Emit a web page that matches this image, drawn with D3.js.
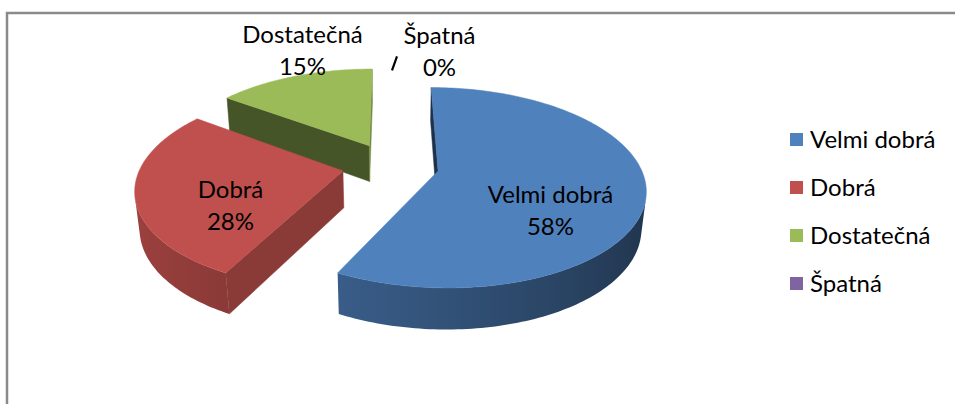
<!DOCTYPE html>
<html>
<head>
<meta charset="utf-8">
<script src="https://cdn.jsdelivr.net/npm/d3@7"></script>
<style>
  body { margin: 0; background: #fff; }
  text { font-family: Lato, 'Open Sans', sans-serif; fill: #000; }
</style>
</head>
<body>
<div id="chart"></div>
<script>
let categories = ['Velmi dobrá', 'Dobrá', 'Dostatečná', 'Špatná']
let counts = [23, 11, 6, 0]
let colors = ['#4f81bd', '#c0504d', '#9bbb59', '#8064a2']

let width = 955
let height = 404

let svg = d3
  .select('#chart')
  .append('svg')
  .attr('width', width)
  .attr('height', height)

let defs = svg.append('defs')

// chart frame (only top and left edges are in view)
svg
  .append('path')
  .attr('d', 'M7,404V13H955')
  .attr('fill', 'none')
  .attr('stroke', '#8a8a8a')
  .attr('stroke-width', 2.5)

let color = d3.scaleOrdinal().domain(categories).range(colors)
let total = d3.sum(counts)

let pie = d3
  .pie()
  .sort(null)
  .value(d => d.count)

let slices = pie(categories.map((c, i) => ({ name: c, count: counts[i] })))

// simple perspective camera looking down on a unit disk
let cam = { cx: 390.5, cy: 165.5, f: 1068, dist: 5.29, tilt: 0.493 }
let sinT = Math.sin(cam.tilt)
let cosT = Math.cos(cam.tilt)
let thick = 0.21
let explode = 0.24

function project(x, z, y) {
  let yc = y * cosT + z * sinT
  let zc = cam.dist + z * cosT - y * sinT
  return [cam.cx + (cam.f * x) / zc, cam.cy - (cam.f * yc) / zc]
}

function shade(base, k) {
  let c = d3.rgb(base)
  return d3.rgb(c.r * k, c.g * k, c.b * k).toString()
}

function area(pts) {
  let s = 0
  for (let i = 0; i < pts.length; i++) {
    let a = pts[i]
    let b = pts[(i + 1) % pts.length]
    s += a[0] * b[1] - b[0] * a[1]
  }
  return s
}

let line = d3.line().curve(d3.curveLinearClosed)

slices.forEach(d => {
  let mid = (d.startAngle + d.endAngle) / 2
  d.ox = explode * Math.sin(mid)
  d.oz = explode * Math.cos(mid)
})

let solids = slices.filter(d => d.value > 0).sort((a, b) => b.oz - a.oz)

solids.forEach((d, si) => {
  let g = svg.append('g').attr('class', 'slice')
  let base = color(d.data.name)
  let edge = (t, y) => project(d.ox + Math.sin(t), d.oz + Math.cos(t), y)
  let centre = y => project(d.ox, d.oz, y)

  // cut faces
  let cuts = [
    { pts: [centre(0), edge(d.startAngle, 0), edge(d.startAngle, -thick), centre(-thick)],
      k: 0.56 + 0.18 * Math.sin(d.startAngle - Math.PI / 2) },
    { pts: [edge(d.endAngle, 0), centre(0), centre(-thick), edge(d.endAngle, -thick)],
      k: 0.56 + 0.18 * Math.sin(d.endAngle + Math.PI / 2) }
  ]
  cuts
    .filter(f => area(f.pts) < 0)
    .forEach(f => {
      let c = shade(base, f.k)
      g.append('path')
        .attr('d', line(f.pts))
        .attr('fill', c)
        .attr('stroke', c)
        .attr('stroke-width', 0.5)
    })

  // outer wall: find the strips facing the camera, join them into runs
  let n = Math.max(2, Math.ceil((d.endAngle - d.startAngle) / 0.02))
  let step = (d.endAngle - d.startAngle) / n
  let runs = []
  let run = null
  for (let i = 0; i < n; i++) {
    let t0 = d.startAngle + i * step
    let t1 = t0 + step
    let quad = [edge(t0, 0), edge(t1, 0), edge(t1, -thick), edge(t0, -thick)]
    if (area(quad) < 0) {
      if (!run) {
        run = [t0]
        runs.push(run)
      }
      run.push(t1)
    } else {
      run = null
    }
  }

  runs.forEach((ts, ri) => {
    let topPts = ts.map(t => edge(t, 0))
    let botPts = ts.map(t => edge(t, -thick)).reverse()
    let xs = topPts.map(p => p[0])
    let x0 = d3.min(xs)
    let x1 = d3.max(xs)
    let id = 'wall-' + si + '-' + ri
    let grad = defs
      .append('linearGradient')
      .attr('id', id)
      .attr('gradientUnits', 'userSpaceOnUse')
      .attr('x1', x0)
      .attr('x2', x1)
      .attr('y1', 0)
      .attr('y2', 0)
    let stops = ts.map((t, i) => ({
      off: (topPts[i][0] - x0) / (x1 - x0 || 1),
      c: shade(base, 0.6 - 0.21 * Math.sin(t) - 0.03 * Math.cos(t))
    }))
    stops.sort((a, b) => a.off - b.off)
    stops.forEach(s => {
      grad.append('stop').attr('offset', s.off).attr('stop-color', s.c)
    })
    g.append('path')
      .attr('d', line(topPts.concat(botPts)))
      .attr('fill', 'url(#' + id + ')')
  })

  // top face
  let top = [centre(0)]
  for (let i = 0; i <= n; i++) top.push(edge(d.startAngle + i * step, 0))
  g.append('path')
    .attr('d', line(top))
    .attr('fill', base)
    .attr('stroke', base)
    .attr('stroke-width', 0.5)
})

// data labels
let fontSize = 24
let lineGap = 32

slices.forEach(d => {
  let mid = (d.startAngle + d.endAngle) / 2
  let pct = Math.round((d.value * 100) / total) + '%'
  let x, y1
  if (d.value === 0) {
    let p0 = project(d.ox + Math.sin(mid), d.oz + Math.cos(mid), 0)
    let p1 = [p0[0] + 5, p0[1] - 14]
    svg
      .append('line')
      .attr('x1', p0[0] + 1.5)
      .attr('y1', p0[1] + 3)
      .attr('x2', p1[0] + 1.5)
      .attr('y2', p1[1] + 3)
      .attr('stroke', '#000')
      .attr('stroke-width', 2.2)
    x = p1[0] + 44
    y1 = p0[1] - 23
  } else if (d.endAngle - d.startAngle < 1) {
    let p = project(d.ox + Math.sin(mid), d.oz + Math.cos(mid), 0)
    x = p[0] + 8
    y1 = p[1] - 1 - lineGap
  } else {
    let p = project(d.ox + 0.55 * Math.sin(mid), d.oz + 0.55 * Math.cos(mid), 0)
    x = p[0]
    y1 = p[1] + 14 + (Math.sin(mid) > 0 ? 5 : 0)
  }
  let t = svg
    .append('text')
    .attr('text-anchor', 'middle')
    .attr('font-size', fontSize)
  t.append('tspan').attr('x', x).attr('y', y1).text(d.data.name)
  t.append('tspan').attr('x', x).attr('y', y1 + lineGap).text(pct)
})

// legend
let legend = svg
  .selectAll('.legend')
  .data(categories)
  .enter()
  .append('g')
  .attr('class', 'legend')
  .attr('transform', (d, i) => 'translate(790,' + (140 + i * 48) + ')')

legend
  .append('rect')
  .attr('x', 0)
  .attr('y', -7)
  .attr('width', 13)
  .attr('height', 13)
  .attr('fill', d => color(d))

legend
  .append('text')
  .attr('x', 20)
  .attr('y', 8)
  .attr('font-size', fontSize)
  .text(d => d)
</script>
</body>
</html>
